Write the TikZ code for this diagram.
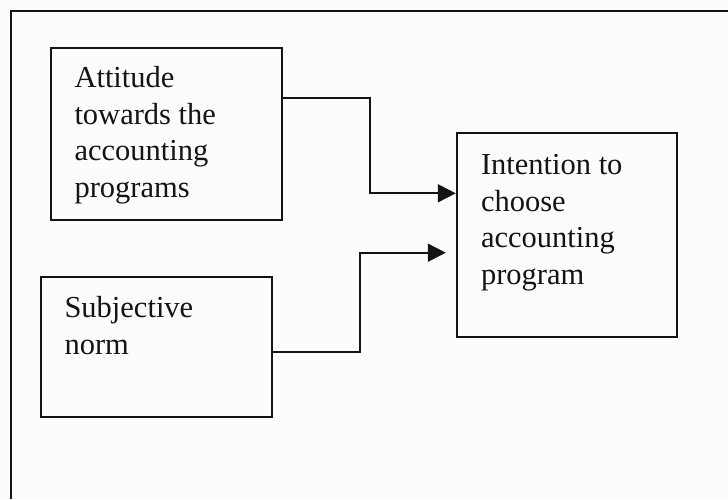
\documentclass[tikz,border=0pt]{standalone}
\usepackage{fontspec}
\setmainfont{Liberation Serif}
\usetikzlibrary{arrows.meta}
\definecolor{paper}{RGB}{252,252,252}
\definecolor{ink}{RGB}{20,20,20}
\newcommand{\topstrut}{\rule{0pt}{22pt}}
\begin{document}
\begin{tikzpicture}[x=1pt, y=-1pt, line join=miter, >={Triangle[length=18pt,width=18pt]},
		box/.style={draw=ink, line width=1.8pt, inner sep=0pt},
		txt/.style={align=left, inner sep=0pt, text=ink, anchor=north west, font=\fontsize{30.5}{36.7}\selectfont},
		conn/.style={draw=ink, line width=1.8pt, ->}]
	\fill[paper] (0,0) rectangle (728,499);
	\useasboundingbox (0,0) rectangle (728,499);
	\draw[ink, line width=2pt] (728,11)--(11,11)--(11,499);
	%===
	\node[box, minimum width=231pt, minimum height=172.3pt] (att) at (166.2,133.9) {};
	\node[box, minimum width=231pt, minimum height=140.6pt] (sub) at (156.2,347) {};
	\node[box, minimum width=220pt, minimum height=203.4pt] (int) at (566.7,235) {};
	\node[txt] (attT) at ([shift={(24.5pt,-18.5pt)}]att.north west) {\topstrut Attitude\\towards the\\accounting\\programs};
	\node[txt] (subT) at ([shift={(24.5pt,-19.5pt)}]sub.north west) {\topstrut Subjective\\norm};
	\node[txt] (intT) at ([shift={(25pt,-19.7pt)}]int.north west) {\topstrut Intention to\\choose\\accounting\\program};
	%===
	\coordinate (tip) at ([shift={(-10pt,-17.7pt)}]int.west);
	\draw[conn] ([yshift=35.6pt]att.east) -- ++(87.6,0) |- ([yshift=41.7pt]int.west);
	\draw[conn] ([yshift=-4.7pt]sub.east) -- ++(87.6,0) |- (tip);
\end{tikzpicture}
\end{document}
